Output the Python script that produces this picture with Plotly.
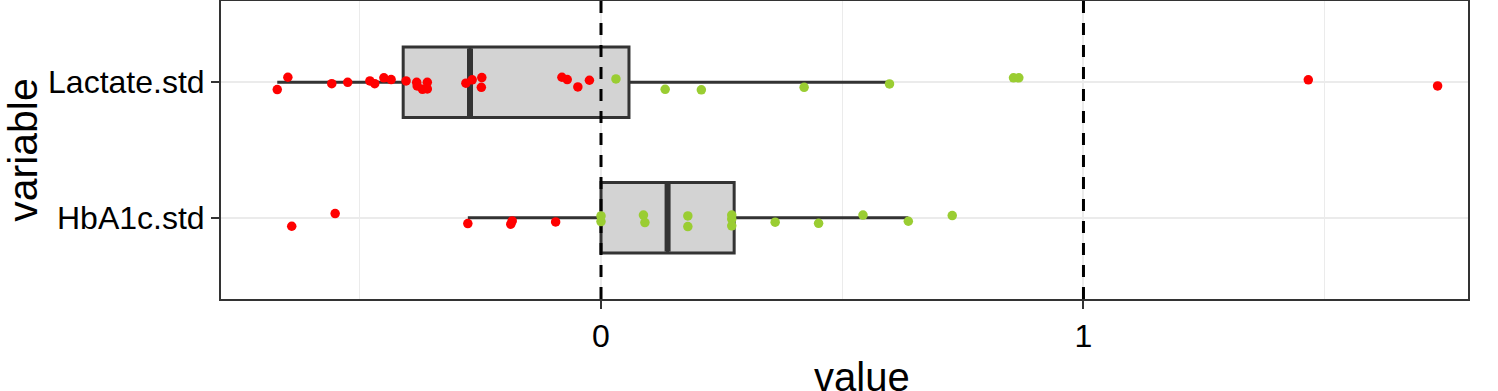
import plotly.graph_objects as go

# ---- data ----
categories = ["HbA1c.std", "Lactate.std"]
cat_pos = [0, 1]

lactate_values = [-0.671, -0.649, -0.558, -0.525, -0.479, -0.469, -0.450, -0.435, -0.404,
                  -0.382, -0.381, -0.370, -0.360, -0.360, -0.280, -0.267, -0.247, -0.248,
                  -0.081, -0.070, -0.048, -0.024, 0.031, 0.133, 0.208, 0.421, 0.598,
                  0.855, 0.866, 1.466, 1.734]
lactate_jitter = [-0.054, 0.037, -0.010, 0.0, 0.010, -0.010, 0.033, 0.020, 0.010, 0.0,
                  -0.027, -0.052, 0.0, -0.049, -0.007, 0.018, 0.035, -0.037, 0.037, 0.020,
                  -0.034, 0.015, 0.025, -0.052, -0.056, -0.037, -0.012, 0.033, 0.033,
                  0.018, -0.027]
lactate_group = ["down"] * 22 + ["up"] * 7 + ["down"] * 2

hba1c_values = [-0.641, -0.551, -0.276, -0.184, -0.187, -0.094, 0.0, 0.0, 0.088, 0.091,
                0.180, 0.180, 0.271, 0.271, 0.271, 0.361, 0.451, 0.543, 0.637, 0.728]
hba1c_jitter = [-0.063, 0.031, -0.043, -0.024, -0.048, -0.031, 0.013, -0.028, 0.020, -0.036,
                0.013, -0.065, 0.020, -0.010, -0.060, -0.033, -0.041, 0.020, -0.026, 0.016]
hba1c_group = ["down"] * 6 + ["up"] * 14

# box statistics: [HbA1c, Lactate]
box_q1 = [0.0, -0.410]
box_median = [0.138, -0.2715]
box_q3 = [0.276, 0.058]
box_lower = [-0.276, -0.671]
box_upper = [0.637, 0.598]

ref_lines = [0, 1]
x_ticks = [0, 1]
x_title = "value"
y_title = "variable"

# ---- styles ----
BOX_W = 0.52
DARK = "#333333"
GROUP_COLORS = {"down": "#ff0000", "up": "#9acd32"}
FONT = "Liberation Sans, Arial, Helvetica, sans-serif"

fig = go.Figure()

fig.add_trace(go.Box(
    y=cat_pos, q1=box_q1, median=box_median, q3=box_q3,
    lowerfence=box_lower, upperfence=box_upper,
    orientation="h", width=BOX_W, whiskerwidth=0,
    fillcolor="#d3d3d3", line=dict(color=DARK, width=3),
    boxpoints=False, hoverinfo="skip", showlegend=False,
))

# thick median lines
for p, m in zip(cat_pos, box_median):
    fig.add_trace(go.Scatter(
        x=[m, m], y=[p - BOX_W / 2 + 0.01, p + BOX_W / 2 - 0.01], mode="lines",
        line=dict(color=DARK, width=6), showlegend=False, hoverinfo="skip"))

# dashed reference lines
for v in ref_lines:
    fig.add_trace(go.Scatter(
        x=[v, v], y=[-0.6, 1.6], mode="lines",
        line=dict(color="black", width=3, dash="12px,10px"),
        showlegend=False, hoverinfo="skip"))

# jittered points
for p, vals, jit, grp in [(1, lactate_values, lactate_jitter, lactate_group),
                          (0, hba1c_values, hba1c_jitter, hba1c_group)]:
    fig.add_trace(go.Scatter(
        x=vals, y=[p + j for j in jit], mode="markers",
        marker=dict(size=9.5, color=[GROUP_COLORS[g] for g in grp], line=dict(width=0)),
        showlegend=False, hoverinfo="skip"))

fig.update_layout(
    width=1498, height=391,
    margin=dict(l=221, r=30, t=1, b=92, autoexpand=False),
    paper_bgcolor="white", plot_bgcolor="white",
    font=dict(family=FONT, color="black"),
)
fig.add_annotation(
    text=x_title, xref="paper", yref="paper", x=0.514, y=-0.262,
    xanchor="center", yanchor="middle", showarrow=False,
    font=dict(size=40, color="black"),
)
fig.update_xaxes(
    range=[-0.7876, 1.797], tickvals=x_ticks, ticktext=[str(t) for t in x_ticks],
    showgrid=True, gridcolor="#ebebeb", gridwidth=2,
    minor=dict(dtick=0.5, tick0=0, showgrid=True, gridcolor="#ebebeb", gridwidth=1),
    zeroline=False, automargin=False,
    showline=True, linecolor=DARK, linewidth=2, mirror=True,
    ticks="outside", ticklen=8, tickwidth=2, tickcolor=DARK,
    tickfont=dict(size=32, color="black"),
)
fig.update_yaxes(
    range=[-0.6, 1.6], tickvals=cat_pos, ticktext=categories,
    showgrid=True, gridcolor="#ebebeb", gridwidth=2, zeroline=False, automargin=False,
    showline=True, linecolor=DARK, linewidth=2, mirror=True,
    ticks="outside", ticklen=8, tickwidth=2, tickcolor=DARK,
    tickfont=dict(size=32, color="black"),
    title=dict(text=y_title, font=dict(size=41, color="black"), standoff=12),
)

fig.write_html("out.html", config={"displayModeBar": False},
               post_script="document.body.style.margin='0';")
